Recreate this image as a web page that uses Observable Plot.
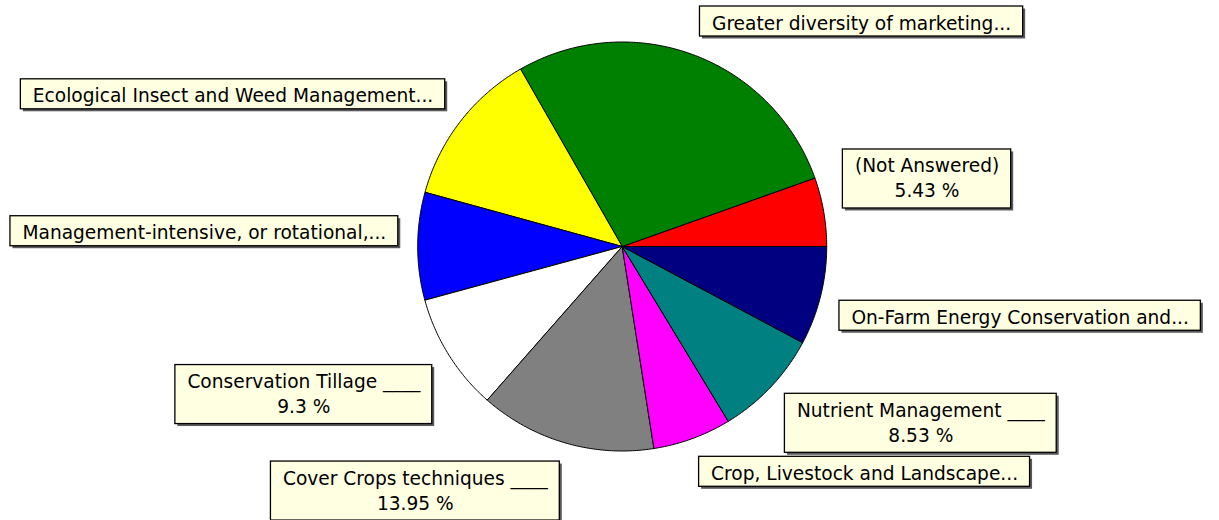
<!DOCTYPE html>
<html>
<head>
<meta charset="utf-8">
<script src="https://cdn.jsdelivr.net/npm/d3@7"></script>
<script src="https://cdn.jsdelivr.net/npm/@observablehq/plot@0.6"></script>
<style>
  html, body { margin: 0; padding: 0; background: #fff; }
  #chart { width: 1219px; height: 520px; overflow: hidden; }
</style>
</head>
<body>
<div id="chart"></div>
<script>
// ---- data ----
const categories = [
  "(Not Answered)",
  "Greater diversity of marketing...",
  "Ecological Insect and Weed Management...",
  "Management-intensive, or rotational,...",
  "Conservation Tillage ____",
  "Cover Crops techniques ____",
  "Crop, Livestock and Landscape...",
  "Nutrient Management ____",
  "On-Farm Energy Conservation and..."
];
const values = [5.43, 27.85, 12.45, 8.5, 9.3, 13.95, 6.2, 8.53, 7.79];
const percentLabels = ["5.43 %", null, null, null, "9.3 %", "13.95 %", null, "8.53 %", null];
const colors = ["#ff0000", "#008000", "#ffff00", "#0000ff", "#ffffff", "#808080", "#ff00ff", "#008080", "#000080"];

// ---- layout ----
const W = 1219, H = 520;
const CX = 621.7, CY = 246, R = 204.5;      // pie centre / radius in pixels
const LABEL_R = 1.095;                      // label anchor radius (in pie radii)
const FONT = "DejaVu Sans", FS = 18.6;
const PAD = 12, H1 = 30, H2 = 59, GAP = 4;

const toX = px => (px - CX) / R;
const toY = py => (CY - py) / R;

const ctx = document.createElement("canvas").getContext("2d");
ctx.font = `${FS}px "${FONT}"`;
const measure = s => ctx.measureText(s).width;

const total = d3.sum(values);
let cum = 0;
const slices = values.map((v, i) => {
  const a0 = cum / total * 2 * Math.PI;
  cum += v;
  const a1 = cum / total * 2 * Math.PI;
  return {i, a0, a1, mid: (a0 + a1) / 2};
});

// slice outlines (unit circle coordinates, counter-clockwise from east)
const pts = [];
for (const s of slices) {
  pts.push({key: s.i, x: 0, y: 0, color: colors[s.i]});
  const n = Math.max(2, Math.ceil((s.a1 - s.a0) / (Math.PI / 360)));
  for (let k = 0; k <= n; k++) {
    const a = s.a0 + (s.a1 - s.a0) * k / n;
    pts.push({key: s.i, x: Math.cos(a), y: Math.sin(a), color: colors[s.i]});
  }
  pts.push({key: s.i, x: 0, y: 0, color: colors[s.i]});
}

// label boxes (pixel space, then converted)
const boxes = slices.map(s => {
  const lines = percentLabels[s.i] ? [categories[s.i], percentLabels[s.i]] : [categories[s.i]];
  const tw = d3.max(lines, measure);
  const w = tw + 2 * PAD;
  const h = lines.length === 2 ? H2 : H1;
  const ax = CX + LABEL_R * R * Math.cos(s.mid);
  const ay = CY - LABEL_R * R * Math.sin(s.mid);
  const left = Math.cos(s.mid) >= 0 ? ax : ax - w;
  const top = Math.sin(s.mid) > 0 ? ay - h : ay;
  return {i: s.i, lines, w, h, left, top, two: lines.length === 2};
});
// simple overlap resolution: a label is pushed up above the label below it
for (let pass = 0; pass < 3; pass++) {
  for (const a of boxes) {
    for (const b of boxes) {
      if (a === b) continue;
      const hOver = a.left < b.left + b.w && b.left < a.left + a.w;
      const vOver = a.top < b.top + b.h + GAP && b.top < a.top + a.h + GAP;
      if (hOver && vOver && a.top < b.top) {
        a.top = b.top - GAP - a.h;
      }
    }
  }
}

const rects = boxes.map(b => ({
  x1: toX(b.left), x2: toX(b.left + b.w),
  y1: toY(b.top), y2: toY(b.top + b.h)
}));
const texts = [];
for (const b of boxes) {
  b.lines.forEach((line, j) => {
    const baseline = b.top + 23 + j * 25;
    texts.push({
      x: toX(b.two ? b.left + b.w / 2 : b.left + PAD),
      y: toY(baseline - 0.32 * FS),
      text: line,
      anchor: b.two ? "middle" : "start"
    });
  });
}

const chart = Plot.plot({
  width: W,
  height: H,
  margin: 0,
  x: {domain: [toX(0), toX(W)], range: [0, W], axis: null},
  y: {domain: [toY(H), toY(0)], range: [H, 0], axis: null},
  color: {type: "identity"},
  style: {fontFamily: FONT, background: "#fff"},
  marks: [
    Plot.line(pts, {x: "x", y: "y", z: "key", fill: "color", stroke: "#000", strokeWidth: 1, curve: "linear", strokeLinejoin: "round"}),
    Plot.rect(rects, {x1: "x1", x2: "x2", y1: "y1", y2: "y2", fill: "#5a5a5a", dx: 2.5, dy: 2.5}),
    Plot.rect(rects, {x1: "x1", x2: "x2", y1: "y1", y2: "y2", fill: "#ffffe1", stroke: "#000", strokeWidth: 1.3}),
    Plot.text(texts.filter(d => d.anchor === "middle"), {x: "x", y: "y", text: "text", textAnchor: "middle", lineAnchor: "middle", fontSize: FS, fill: "#000"}),
    Plot.text(texts.filter(d => d.anchor === "start"), {x: "x", y: "y", text: "text", textAnchor: "start", lineAnchor: "middle", fontSize: FS, fill: "#000"})
  ]
});
document.getElementById("chart").appendChild(chart);
</script>
</body>
</html>
